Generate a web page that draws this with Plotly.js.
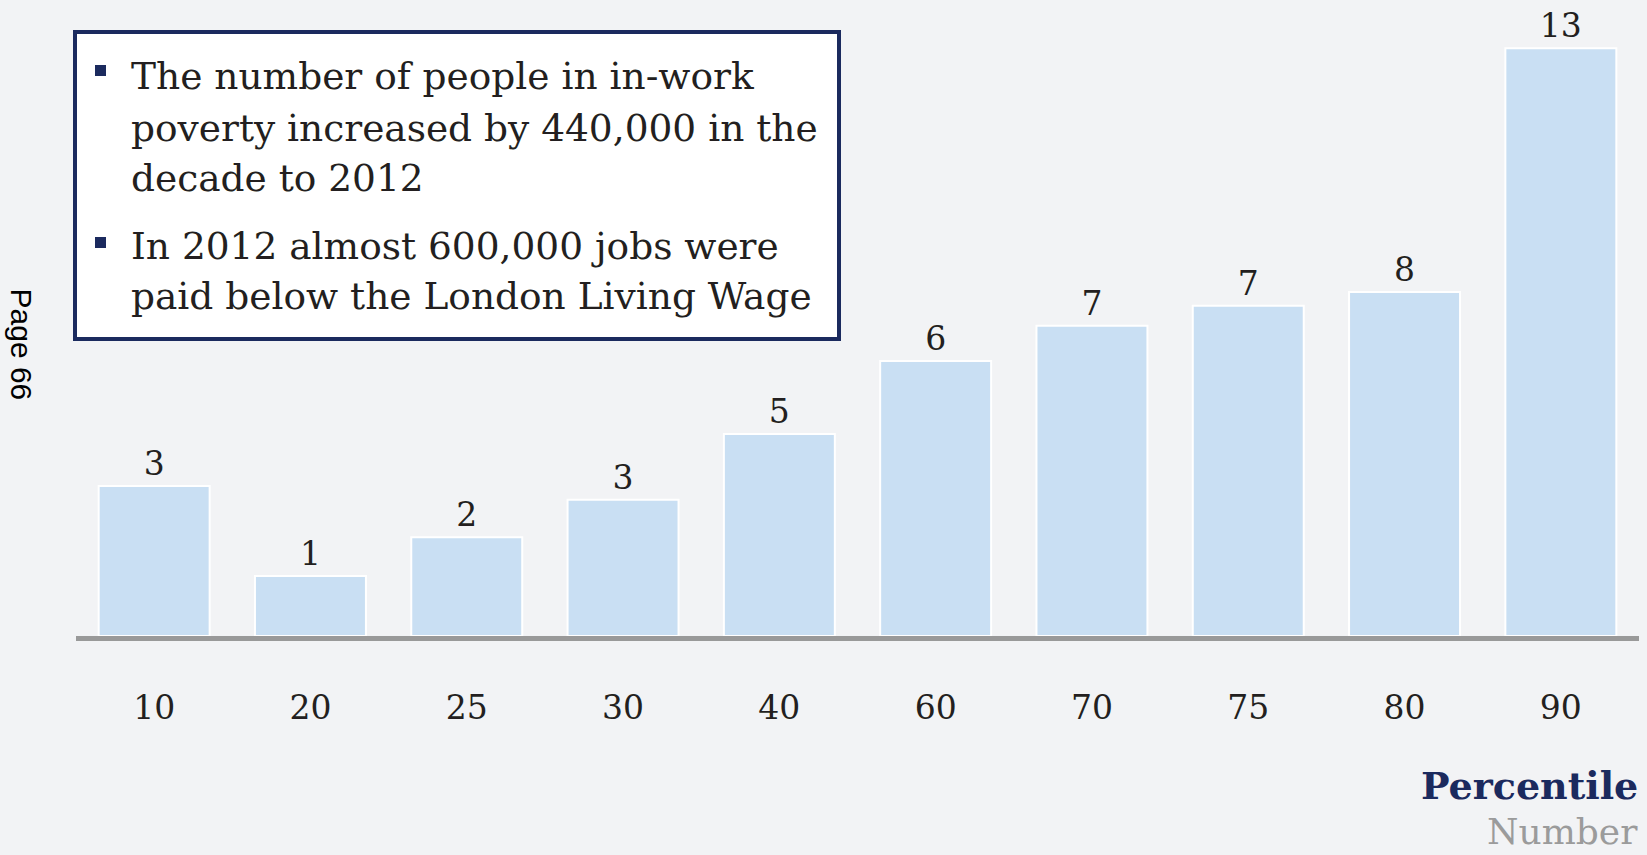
<!DOCTYPE html>
<html>
<head>
<meta charset="utf-8">
<script src="https://cdn.plot.ly/plotly-3.0.1.min.js"></script>
<style>
  html, body { margin: 0; padding: 0; background: #f2f3f5; }
  #chart { width: 1647px; height: 855px; }
</style>
</head>
<body>
<div id="chart"></div>
<script>
// ---- Data ----
const percentiles = ["10", "20", "25", "30", "40", "60", "70", "75", "80", "90"];
const values = [3.37, 1.35, 2.22, 3.06, 4.54, 6.18, 6.97, 7.42, 7.73, 13.21];
const bullet1 = ["The number of people in in-work", "poverty increased by 440,000 in the", "decade to 2012"];
const bullet2 = ["In 2012 almost 600,000 jobs were", "paid below the London Living Wage"];
const xTitle = "Percentile";
const yTitle = "Number";
const pageLabel = "Page 66";

// ---- Geometry ----
const FW = 1647, FH = 855;
const M = { l: 76, r: 8, t: 13, b: 219 };
const PW = FW - M.l - M.r, PH = FH - M.t - M.b;
const px = x => (x - M.l) / PW;          // pixel x -> paper
const py = y => (FH - M.b - y) / PH;      // pixel y -> paper

const SERIF = "DejaVu Serif, serif";
const NAVY = "#1b2a5e";
const TXT = "#231f20";

const trace = {
  type: "bar",
  x: percentiles,
  y: values,
  marker: { color: "#c9dff3", line: { color: "#ffffff", width: 2 } },
  texttemplate: "%{y:.0f}",
  textposition: "outside",
  cliponaxis: false,
  textfont: { family: SERIF, size: 33, color: TXT },
  hoverinfo: "skip"
};

const shapes = [
  { type: "rect", xref: "paper", yref: "paper",
    x0: px(75), x1: px(839), y0: py(32), y1: py(339),
    fillcolor: "#ffffff", line: { color: NAVY, width: 4 }, layer: "above" },
  { type: "rect", xref: "paper", yref: "paper",
    x0: px(95), x1: px(106), y0: py(65), y1: py(76),
    fillcolor: NAVY, line: { width: 0 }, layer: "above" },
  { type: "rect", xref: "paper", yref: "paper",
    x0: px(95), x1: px(106), y0: py(237), y1: py(248),
    fillcolor: NAVY, line: { width: 0 }, layer: "above" }
];

const FS = 37.5;
const baselines1 = [88, 140, 190];
const baselines2 = [258, 308];
const annotations = [];
function addLines(lines, bases) {
  lines.forEach((t, i) => {
    annotations.push({
      text: t, xref: "paper", yref: "paper",
      x: px(129), y: py(bases[i] - 0.33 * FS),
      xanchor: "left", yanchor: "middle", showarrow: false,
      font: { family: SERIF, size: FS, color: TXT }
    });
  });
}
addLines(bullet1, baselines1);
addLines(bullet2, baselines2);

annotations.push({
  text: "<b>" + xTitle + "</b>", xref: "paper", yref: "paper",
  x: px(1640), y: py(785), xanchor: "right", yanchor: "middle", showarrow: false,
  font: { family: SERIF, size: 38, color: NAVY }
});
annotations.push({
  text: yTitle, xref: "paper", yref: "paper",
  x: px(1640), y: py(831), xanchor: "right", yanchor: "middle", showarrow: false,
  font: { family: SERIF, size: 36, color: "#9b9b9b" }
});
annotations.push({
  text: pageLabel, xref: "paper", yref: "paper",
  x: px(21.5), y: py(345), xanchor: "center", yanchor: "middle", showarrow: false,
  textangle: 90,
  font: { family: "Liberation Sans, Arial, sans-serif", size: 30, color: "#000000" }
});

const layout = {
  width: FW, height: FH,
  margin: M,
  paper_bgcolor: "#f2f3f5",
  plot_bgcolor: "#f2f3f5",
  showlegend: false,
  bargap: 0.29,
  xaxis: {
    type: "category",
    range: [-0.5, 9.5],
    showline: true, linecolor: "#999999", linewidth: 5,
    showgrid: false, zeroline: false,
    ticks: "", ticklabelstandoff: 38,
    tickfont: { family: SERIF, size: 33, color: TXT },
    fixedrange: true
  },
  yaxis: {
    range: [0, 14],
    visible: false, showgrid: false, zeroline: false,
    fixedrange: true
  },
  shapes: shapes,
  annotations: annotations
};

Plotly.newPlot("chart", [trace], layout, { displayModeBar: false, staticPlot: true });
</script>
</body>
</html>
